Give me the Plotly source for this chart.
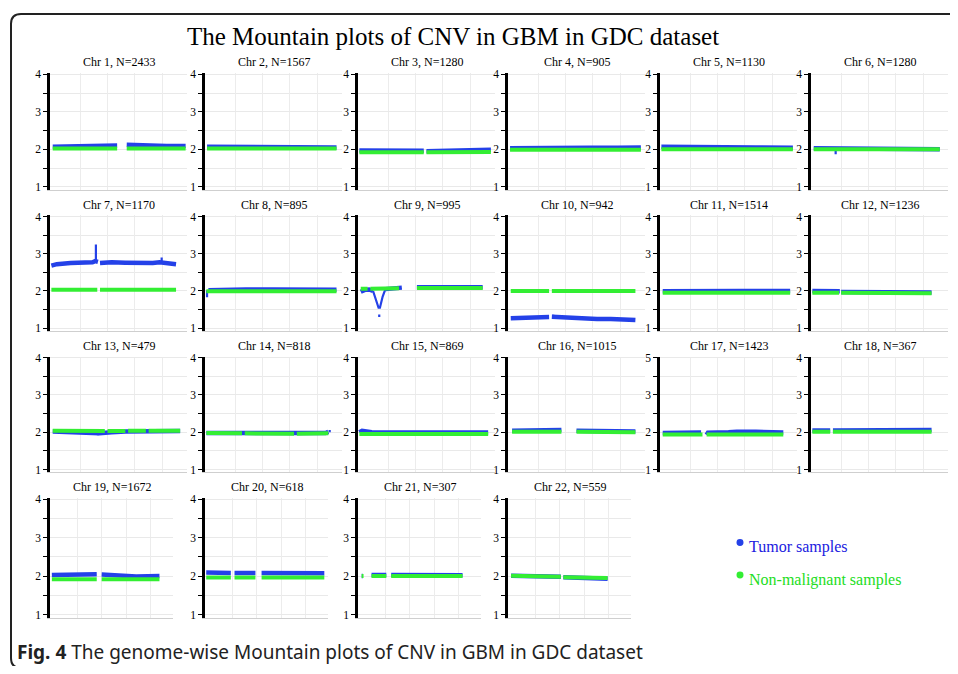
import plotly.graph_objects as go

# ---------------- data ----------------
CHROMOSOMES = list(range(1, 23))
N_SAMPLES = [2433, 1567, 1280, 905, 1130, 1280, 1170, 895, 995, 942, 1514, 1236,
             479, 818, 869, 1015, 1423, 367, 1672, 618, 307, 559]

# relative genomic position (0-100) and copy number; None = gap
TUMOR_X = [
    [2, 20, 40, 49, None, 56, 70, 85, 99],
    [1.5, 20, 40, 50, 70, 96],
    [1, 20, 40, 48, None, 50, 70, 85, 97],
    [1.5, 20, 40, 43, 60, 80, 97],
    [1, 15, 30, 50, 70, 97],
    [2, 17, 19, 30, 54, 60, 94],
    [1, 5, 15, 25, 31, 33, 35, None, 36.5, 45, 55, 65, 75, 80, 83, 88, 92],
    [2.5, 10, 30, 50, 70, 96],
    [2, 5, 8, 11, None, 20, 25, 32, None, 43, 60, 75, 91],
    [2, 10, 20, 27, 30, None, 32, 36, 45, 55, 65, 75, 85, 93],
    [2, 20, 34, 36, 60, 95],
    [1, 20, 21, None, 22, 50, 88],
    [2, 15, 25, 34, 36, 45, 55, 95],
    [1, 30, 60, 88, 90],
    [1, 3, 10, 40, 70, 95],
    [3, 20, 39, None, 50, 70, 93],
    [2, 30, None, 34, 35, 50, 54, 56, 70, 90],
    [1, 14, None, 16, 50, 88],
    [1.5, 20, 38, None, 42, 50, 58, 70, 89],
    [1, 21, None, 24, 41, None, 46, 70, 97],
    [3, 4, None, 11, 23, None, 27, 50, 85],
    [2.5, 20, 43, None, 45, 70, 81],
]
TUMOR_Y = [
    [2.07, 2.08, 2.09, 2.10, None, 2.12, 2.10, 2.09, 2.09],
    [2.07, 2.07, 2.06, 2.06, 2.05, 2.05],
    [1.97, 1.96, 1.96, 1.96, None, 1.95, 1.96, 1.97, 1.99],
    [2.03, 2.04, 2.05, 2.06, 2.04, 2.04, 2.05],
    [2.07, 2.07, 2.06, 2.05, 2.05, 2.04],
    [2.03, 2.03, 2.03, 2.03, 2.02, 2.00, 2.00],
    [2.68, 2.72, 2.75, 2.76, 2.77, 2.80, 2.78, None, 2.75, 2.77, 2.76, 2.74, 2.75, 2.77, 2.75, 2.74, 2.72],
    [2.02, 2.03, 2.04, 2.04, 2.03, 2.03],
    [1.98, 2.03, 2.04, 2.00, None, 2.05, 2.07, 2.09, None, 2.10, 2.10, 2.10, 2.10],
    [1.27, 1.28, 1.28, 1.29, 1.30, None, 1.31, 1.30, 1.28, 1.26, 1.25, 1.25, 1.24, 1.22],
    [1.99, 2.00, 2.01, 2.01, 2.00, 2.00],
    [2.00, 2.00, 1.99, None, 1.97, 1.97, 1.96],
    [2.02, 2.01, 1.98, 1.97, 1.97, 2.00, 2.02, 2.03],
    [1.98, 1.98, 1.97, 1.98, 2.01],
    [2.00, 2.04, 2.00, 1.99, 1.99, 1.99],
    [2.04, 2.04, 2.06, None, 2.04, 2.03, 2.02],
    [1.98, 1.99, None, 1.93, 1.99, 2.00, 2.01, 2.01, 2.01, 1.99],
    [2.05, 2.05, None, 2.05, 2.05, 2.06],
    [2.03, 2.04, 2.05, None, 2.04, 2.03, 2.00, 1.99, 2.00],
    [2.09, 2.08, None, 2.08, 2.08, None, 2.08, 2.08, 2.07],
    [2.00, 2.00, None, 2.03, 2.03, None, 2.03, 2.03, 2.02],
    [2.01, 2.00, 1.98, None, 1.97, 1.96, 1.93],
]
# thin excursions of tumor samples (spikes / dips)
TUMOR_SPIKE_X = [
    [], [51, 51], [], [], [], [18, 18], [33.5, 33.5, None, 81.5, 81.5],
    [1.5, 1.5], [11, 13, 15, 16, 18, 20, None, 15.5, 15.5], [33, 33], [35, 35], [],
    [35, 35], [91, 91], [], [], [55, 55], [], [], [], [], [],
]
TUMOR_SPIKE_Y = [
    [], [2.05, 2.00], [], [], [], [2.02, 1.87], [2.78, 3.25, None, 2.75, 2.90],
    [2.02, 1.83], [2.00, 1.80, 1.55, 1.55, 1.85, 2.05, None, 1.30, 1.37], [1.30, 1.36], [2.00, 2.05], [],
    [1.97, 1.92], [2.00, 2.06], [], [], [2.01, 2.06], [], [], [], [], [],
]
NORMAL_X = [
    [2, 49, None, 56, 99],
    [1.5, 96],
    [1, 48, None, 50, 97],
    [1.5, 97],
    [1, 97],
    [2, 94],
    [1, 34.5, None, 36.5, 92],
    [1, 96],
    [2, 7, None, 9, 30, None, 43, 91],
    [2, 30, None, 32, 93],
    [2, 95],
    [1, 20.5, None, 22, 88],
    [2, 40, None, 42, 55, None, 57, 70, None, 72, 95],
    [1, 27, None, 29, 65, None, 67, 90],
    [1, 95],
    [3, 39, None, 50, 93],
    [2, 31, None, 34, 90],
    [1, 14, None, 16, 88],
    [1.5, 38, None, 42, 89],
    [1, 21, None, 24, 41, None, 46, 97],
    [3, 4.5, None, 11, 23, None, 27, 85],
    [2.5, 20, 43, None, 45, 70, 81],
]
NORMAL_Y = [
    [2.02, 2.02, None, 2.02, 2.02],
    [2.02, 2.02],
    [1.92, 1.92, None, 1.92, 1.93],
    [1.99, 1.99],
    [2.00, 2.00],
    [2.00, 2.00],
    [2.03, 2.03, None, 2.03, 2.03],
    [1.99, 1.99],
    [2.06, 2.06, None, 2.06, 2.07, None, 2.08, 2.08],
    [2.00, 2.00, None, 2.00, 2.00],
    [1.95, 1.95],
    [1.95, 1.95, None, 1.95, 1.94],
    [2.04, 2.03, None, 2.03, 2.03, None, 2.04, 2.04, None, 2.04, 2.04],
    [1.98, 1.97, None, 1.97, 1.96, None, 1.96, 1.97],
    [1.95, 1.95],
    [2.01, 2.01, None, 2.01, 2.00],
    [1.94, 1.94, None, 1.94, 1.94],
    [2.01, 2.01, None, 2.01, 2.01],
    [1.92, 1.92, None, 1.92, 1.92],
    [1.96, 1.96, None, 1.96, 1.96, None, 1.96, 1.96],
    [2.00, 2.00, None, 2.00, 2.00, None, 2.00, 2.00],
    [2.01, 2.00, 1.98, None, 1.97, 1.96, 1.95],
]
Y_TICK_VALUES = [1, 2, 3, 4]
Y_TICK_TEXT = ["1", "2", "3", "4"]
Y_TICK_TEXT_CHR17 = ["1", "2", "3", "5"]
SERIES_NAMES = ["Tumor samples", "Non-malignant samples"]

# ---------------- styling / geometry ----------------
PAGE_W, PAGE_H = 958, 674
OFF = 8                      # browser body margin
W, H = PAGE_W - 2 * OFF, PAGE_H - 2 * OFF
BLUE = "#2441e8"
GREEN = "#33ee33"
SERIF = "Liberation Serif"
COL_X = [50, 205, 358, 508, 660, 811]
ROW_TOP = [70, 214, 357, 500]
ROW_UNIT = [38.0, 37.7, 37.7, 39.0]
PANEL_W = [137, 137, 137, 123]
Y_MIN, Y_MAX = 0.92, 4.03


def px(x):
    return (x - OFF) / W


def py(y):
    return 1 - (y - OFF) / H


fig = go.Figure()
layout = {}
annotations = []

for i, chrom in enumerate(CHROMOSOMES):
    r, c = divmod(i, 6)
    n = i + 1
    xs = "" if n == 1 else str(n)
    x0 = COL_X[c]
    x1 = x0 + PANEL_W[r]
    ytop = ROW_TOP[r] - (Y_MAX - 4) * ROW_UNIT[r]
    ybot = ROW_TOP[r] + (4 - Y_MIN) * ROW_UNIT[r]
    layout["xaxis" + xs] = dict(
        domain=[px(x0), px(x1)], range=[0, 100], anchor="y" + xs,
        showline=True, linecolor="#cfcfcf", linewidth=1,
        tickvals=[22, 42, 62, 82], showticklabels=False, ticks="",
        showgrid=True, gridcolor="#ececec", gridwidth=1, zeroline=False,
    )
    layout["yaxis" + xs] = dict(
        domain=[py(ybot), py(ytop)], range=[Y_MIN, Y_MAX], anchor="x" + xs,
        tickvals=Y_TICK_VALUES,
        ticktext=Y_TICK_TEXT_CHR17 if chrom == 17 else Y_TICK_TEXT,
        ticks="outside", ticklen=4, tickwidth=1, tickcolor="black",
        showline=True, linecolor="black", linewidth=2.5,
        showgrid=True, gridcolor="#e9e9e9", gridwidth=1, zeroline=False,
        tickfont=dict(family=SERIF, size=11.5, color="black"),
        minor=dict(tickvals=[1.5, 2.5, 3.5], ticks="outside", ticklen=4,
                   tickcolor="black", tickwidth=1, showgrid=True,
                   gridcolor="#e9e9e9", gridwidth=1),
    )
    fig.add_trace(go.Scatter(
        x=TUMOR_X[i], y=TUMOR_Y[i], mode="lines", connectgaps=False,
        line=dict(color=BLUE, width=4.5), xaxis="x" + xs, yaxis="y" + xs,
        showlegend=False, name=SERIES_NAMES[0]))
    if TUMOR_SPIKE_X[i]:
        fig.add_trace(go.Scatter(
            x=TUMOR_SPIKE_X[i], y=TUMOR_SPIKE_Y[i], mode="lines", connectgaps=False,
            line=dict(color=BLUE, width=2.2), xaxis="x" + xs, yaxis="y" + xs,
            showlegend=False, name=SERIES_NAMES[0]))
    fig.add_trace(go.Scatter(
        x=NORMAL_X[i], y=NORMAL_Y[i], mode="lines", connectgaps=False,
        line=dict(color=GREEN, width=4), xaxis="x" + xs, yaxis="y" + xs,
        showlegend=False, name=SERIES_NAMES[1]))
    annotations.append(dict(
        text=f"Chr {chrom}, N={N_SAMPLES[i]}", xref="paper", yref="paper",
        x=px((x0 + x1) / 2), y=py(ytop - 11), xanchor="center", yanchor="middle",
        showarrow=False, font=dict(family=SERIF, size=12, color="black")))

# main title
annotations.append(dict(
    text="The Mountain plots of CNV in GBM in GDC dataset", xref="paper", yref="paper",
    x=px(453), y=py(32), xanchor="center", yanchor="middle", showarrow=False,
    font=dict(family=SERIF, size=25, color="black")))

# legend
legend_items = [(SERIES_NAMES[0], BLUE, "#2020e0", 544), (SERIES_NAMES[1], GREEN, "#22dd22", 577)]
shapes = []
for name, mcol, tcol, cy in legend_items:
    rr = 3.5
    shapes.append(dict(type="circle", xref="paper", yref="paper",
                       x0=px(740 - rr), x1=px(740 + rr),
                       y0=py(cy + rr), y1=py(cy - rr),
                       fillcolor=mcol, line=dict(width=0)))
    annotations.append(dict(text=name, xref="paper", yref="paper",
                            x=px(747), y=py(cy + 5), xanchor="left", yanchor="middle",
                            showarrow=False, font=dict(family=SERIF, size=16, color=tcol)))

# caption
annotations.append(dict(
    text="<b>Fig. 4</b> The genome-wise Mountain plots of CNV in GBM in GDC dataset",
    xref="paper", yref="paper", x=px(15), y=py(655), xanchor="left", yanchor="middle",
    showarrow=False, font=dict(family="Noto Sans", size=19, color="#222222")))

# outer rounded frame
xl, yt, yb, xr = px(11), py(9), py(671), px(975)
rx, ry = 10 / W, 10 / H
path = (f"M {xr},{yt} L {xl + rx},{yt} Q {xl},{yt} {xl},{yt - ry} "
        f"L {xl},{yb + ry} Q {xl},{yb} {xl + rx},{yb} L {xr},{yb}")
shapes.append(dict(type="path", xref="paper", yref="paper", path=path,
                   line=dict(color="#222222", width=2)))

fig.update_layout(
    width=W, height=H, margin=dict(l=0, r=0, t=0, b=0),
    paper_bgcolor="white", plot_bgcolor="white", showlegend=False,
    annotations=annotations, shapes=shapes, **layout)

fig.write_html("out.html")
